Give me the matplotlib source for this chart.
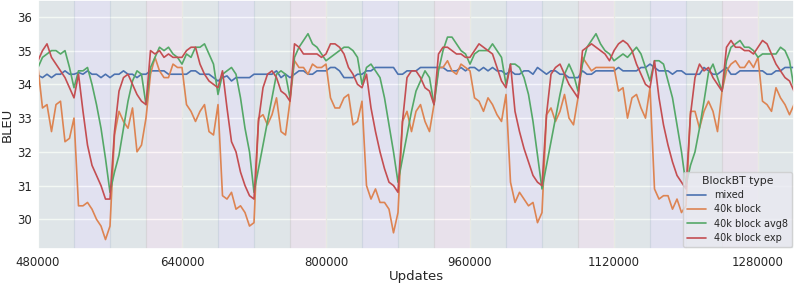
import numpy as np
import matplotlib
matplotlib.use("Agg")
import matplotlib.pyplot as plt
import seaborn as sns

sns.set_theme(style="darkgrid")

updates = np.arange(480000, 1320001, 5000)

mixed = [34.27, 34.2, 34.3, 34.2, 34.3, 34.3, 34.4, 34.3, 34.3, 34.35, 34.3, 34.4, 34.3, 34.3, 34.2, 34.3, 34.2, 34.3, 34.3, 34.4, 34.3, 34.3,
         34.2, 34.3, 34.3, 34.4, 34.4, 34.4, 34.4, 34.3, 34.3, 34.3, 34.3, 34.3, 34.4, 34.4, 34.3, 34.3, 34.3, 34.2, 34.1,
         34.2, 34.25, 34.1, 34.2, 34.2, 34.2, 34.2, 34.3, 34.3, 34.3, 34.3, 34.3, 34.4, 34.2, 34.3, 34.2, 34.3, 34.4, 34.4, 34.3, 34.3, 34.4, 34.4,
         34.4, 34.5, 34.5, 34.4, 34.2, 34.2, 34.2, 34.3, 34.3, 34.4, 34.4, 34.5, 34.5, 34.5, 34.5, 34.5, 34.3, 34.3, 34.4, 34.4, 34.4,
         34.5, 34.5, 34.5, 34.5, 34.5, 34.5, 34.4, 34.4, 34.4, 34.5, 34.4, 34.5, 34.5, 34.4, 34.5, 34.4, 34.5, 34.4, 34.4, 34.3, 34.4,
         34.3, 34.3, 34.4, 34.4, 34.3, 34.5, 34.4, 34.3, 34.4, 34.4, 34.3, 34.3, 34.2, 34.2, 34.2, 34.4, 34.3, 34.3, 34.4, 34.4,
         34.4, 34.4, 34.4, 34.5, 34.4, 34.4, 34.4, 34.4, 34.5, 34.5, 34.6, 34.5, 34.4, 34.4, 34.4, 34.3, 34.4, 34.4, 34.3, 34.3, 34.3,
         34.3, 34.5, 34.4, 34.3, 34.3, 34.4, 34.5, 34.3, 34.3, 34.4, 34.4, 34.4, 34.4, 34.4, 34.4, 34.3, 34.3, 34.4, 34.4, 34.5, 34.5, 34.5]

block40k = [34.5, 33.3, 33.4, 32.6, 33.4, 33.5, 32.3, 32.4, 33.0, 30.4, 30.4, 30.5, 30.3, 30.0, 29.8, 29.4, 29.8, 32.5, 33.2, 32.9,
            32.7, 33.3, 32.0, 32.2, 33.0, 34.3, 34.8, 34.4, 34.2, 34.2, 34.6, 34.5, 34.5, 33.4, 33.2, 32.9, 33.2, 33.4, 32.6, 32.5,
            33.4, 30.7, 30.6, 30.8, 30.3, 30.4, 30.2, 29.8, 29.9, 33.0, 33.1, 32.8, 33.1, 33.6, 32.6, 32.5, 33.5, 34.7, 34.5, 34.5,
            34.3, 34.6, 34.5, 34.5, 34.6, 33.6, 33.3, 33.3, 33.6, 33.7, 32.8, 32.9, 33.5, 31.0, 30.6, 30.9, 30.5, 30.5, 30.3, 29.6,
            30.2, 32.9, 33.2, 32.6, 33.2, 33.4, 32.9, 32.6, 33.4, 34.5, 34.5, 34.7, 34.4, 34.3, 34.6, 34.5, 34.4, 33.6, 33.5, 33.2,
            33.6, 33.4, 33.1, 32.9, 33.7, 31.1, 30.5, 30.8, 30.6, 30.4, 30.5, 29.9, 30.2, 33.1, 33.3, 32.9, 33.2, 33.7, 33.0, 32.8,
            33.6, 34.8, 34.6, 34.4, 34.5, 34.5, 34.5, 34.5, 34.5, 33.8, 33.9, 33.0, 33.6, 33.7, 33.3, 33.0, 33.9, 30.9, 30.6, 30.7,
            30.7, 30.3, 30.6, 30.2, 30.4, 33.2, 33.2, 32.7, 33.2, 33.5, 33.2, 32.6, 33.8, 34.4, 34.6, 34.7, 34.5, 34.5, 34.7, 34.5,
            34.8, 33.5, 33.4, 33.2, 33.9, 33.6, 33.4, 33.1, 33.4]

block40k_avg8 = [34.5, 34.8, 34.9, 35.0, 35.0, 34.9, 35.0, 34.5, 33.9, 34.4, 34.4, 34.5, 34.0, 33.4, 32.7, 31.8, 30.8, 31.4, 31.9, 32.7,
                 33.5, 34.1, 34.4, 34.3, 33.4, 34.5, 34.8, 35.1, 35.0, 35.1, 34.9, 34.8, 34.6, 34.9, 34.8, 35.1, 35.1, 35.2, 34.9, 34.6,
                 33.7, 34.3, 34.4, 34.5, 34.3, 33.6, 32.7, 32.0, 30.8, 31.5, 32.2, 32.9, 33.6, 34.3, 34.4, 34.3, 33.6, 34.8, 35.1, 35.3,
                 35.5, 35.2, 35.1, 34.9, 34.7, 34.8, 34.9, 35.0, 35.1, 35.1, 35.0, 34.8, 34.0, 34.5, 34.6, 34.4, 34.2, 33.6, 32.8, 32.0,
                 31.1, 31.8, 32.5, 33.2, 33.8, 34.1, 34.4, 34.2, 33.4, 34.4, 35.0, 35.4, 35.4, 35.2, 35.0, 34.9, 34.6, 34.9, 35.0, 35.0,
                 35.0, 35.2, 35.0, 34.8, 34.0, 34.6, 34.6, 34.5, 34.2, 33.7, 32.9, 31.9, 30.9, 31.6, 32.3, 33.0, 33.7, 34.3, 34.6, 34.3,
                 33.8, 34.6, 35.1, 35.3, 35.5, 35.2, 35.0, 34.9, 34.7, 34.8, 34.9, 34.8, 34.95, 35.1, 34.9, 34.5, 34.1, 34.7, 34.7, 34.6,
                 34.1, 33.6, 32.8, 32.0, 31.0, 31.6, 32.0, 32.7, 33.5, 34.35, 34.6, 34.2, 33.8, 34.7, 35.1, 35.2, 35.3, 35.1, 35.1, 35.0,
                 34.8, 34.9, 34.9, 34.9, 34.9, 35.1, 35.0, 34.7, 33.9]

block40k_exp = [34.7, 35.0, 35.2, 34.8, 34.6, 34.4, 34.2, 33.9, 33.6, 34.3, 33.2, 32.2, 31.6, 31.3, 31.0, 30.6, 30.6, 32.6, 33.8, 34.2,
                34.3, 34.0, 33.7, 33.5, 33.4, 35.0, 34.9, 35.0, 34.8, 34.9, 34.8, 34.8, 34.8, 35.0, 35.1, 35.1, 34.6, 34.3, 34.1, 34.0,
                33.9, 34.4, 33.3, 32.3, 32.0, 31.4, 31.0, 30.7, 30.6, 32.9, 33.9, 34.3, 34.4, 34.2, 33.8, 33.7, 33.5, 35.2, 35.1, 34.9,
                34.9, 34.9, 34.9, 34.8, 34.9, 35.2, 35.2, 35.1, 34.9, 34.5, 34.3, 34.0, 33.9, 34.3, 33.3, 32.6, 32.0, 31.5, 31.1, 31.0,
                30.8, 32.9, 34.2, 34.4, 34.4, 34.2, 33.9, 33.8, 33.4, 34.9, 35.1, 35.1, 35.0, 34.9, 34.9, 34.8, 34.8, 35.0, 35.2, 35.1,
                35.0, 34.9, 34.5, 34.1, 33.9, 34.6, 33.2, 32.6, 32.1, 31.7, 31.3, 31.1, 31.0, 33.1, 34.3, 34.5, 34.6, 34.3, 34.0, 33.8,
                33.6, 35.0, 35.1, 35.2, 35.1, 35.0, 34.9, 34.7, 35.0, 35.2, 35.3, 35.2, 35.0, 34.6, 34.3, 34.0, 33.9, 34.7, 33.6, 32.8,
                32.2, 31.7, 31.3, 31.1, 30.9, 33.1, 34.2, 34.6, 34.4, 34.5, 34.2, 34.0, 33.8, 35.1, 35.3, 35.1, 35.1, 35.0, 35.0, 34.9,
                35.1, 35.3, 35.2, 34.9, 34.6, 34.4, 34.2, 34.1, 33.8]

series_names = ["mixed", "40k block", "40k block avg8", "40k block exp"]
series_values = [mixed, block40k, block40k_avg8, block40k_exp]

# background blocks, each 40k updates wide, cycling through these kinds
band_starts = np.arange(480000, 1320000, 40000)
band_kinds = ["grey", "blue", "grey", "red"]
band_colors = {"grey": "#55a868", "blue": "#4c4cd0", "red": "#d04c6c"}
band_alpha = {"grey": 0.07, "blue": 0.05, "red": 0.05}

xticks = [480000, 640000, 800000, 960000, 1120000, 1280000]
yticks = [30, 31, 32, 33, 34, 35, 36]

fig = plt.figure(figsize=(7.94, 2.85), dpi=100)
ax = fig.add_axes([38 / 794, 36 / 285, 1 - 38 / 794, 1 - 36 / 285])

for k, s in enumerate(band_starts):
    kind = band_kinds[k % 4]
    ax.axvspan(s, s + 40000, color=band_colors[kind], alpha=band_alpha[kind], lw=0.8, zorder=0.6)

palette = sns.color_palette("deep")
for k, (name, vals) in enumerate(zip(series_names, series_values)):
    ax.plot(updates, vals, color=palette[k], lw=1.2, label=name, zorder=2)

ax.set_xlim(480000, 1320000)
ax.set_ylim(29.12, 36.5)
ax.set_xticks(xticks)
ax.set_xticklabels([str(t) for t in xticks])
ax.set_yticks(yticks)
ax.tick_params(axis="x", labelsize=8.5, length=0, pad=5)
ax.tick_params(axis="y", labelsize=8.5, length=0, pad=4.5)
ax.set_xlabel("Updates", fontsize=9.5, labelpad=0.5)
ax.set_ylabel("BLEU", fontsize=9.5, labelpad=2)

leg = ax.legend(title="BlockBT type", loc="lower right", fontsize=7, title_fontsize=7.8,
                borderaxespad=0.2, handlelength=2.0, labelspacing=0.45, borderpad=0.4)

fig.savefig("out.png", dpi=100)
